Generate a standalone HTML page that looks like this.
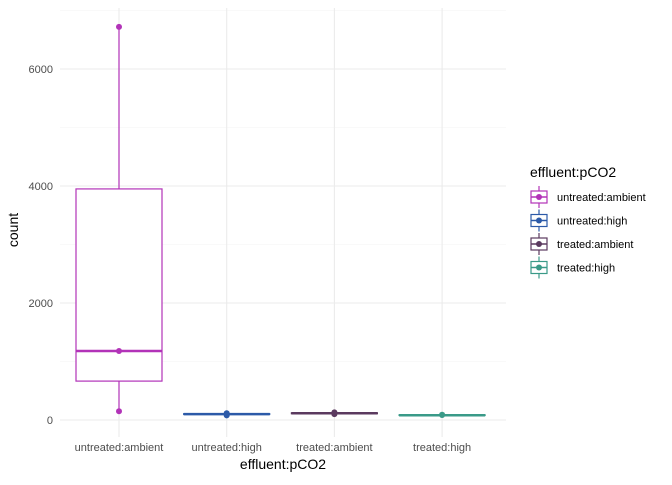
<!DOCTYPE html>
<html><head><meta charset="utf-8"><style>
body{margin:0;background:#fff}
text{font-family:"Liberation Sans",sans-serif}
</style></head><body>
<svg id="chart" width="672" height="480" xmlns="http://www.w3.org/2000/svg">
<g id="grid"></g><g id="marks"></g><g id="axes"></g><g id="legend"></g>
</svg>
<script>
const categories=["untreated:ambient","untreated:high","treated:ambient","treated:high"];
const colors=["#b233b8","#2c5aa8","#5b3a5f","#3a9a88"];
const lowerWhisker=[150,100,110,80];
const q1=[665,95,108,78];
const medians=[1180,100,115,82];
const q3=[3950,108,122,88];
const upperWhisker=[6720,112,128,92];
const points=[[150,1180,6720],[80,100,115],[100,118,130],[85,90]];
const yTicks=[0,2000,4000,6000];
const NS="http://www.w3.org/2000/svg";
const L=60,R=506,T=8,B=437;
const y=v=>420-v*(117/2000);
const x=i=>119+i*107.7;
function mk(tag,attrs,parent){const e=document.createElementNS(NS,tag);for(const k in attrs)e.setAttribute(k,attrs[k]);parent.appendChild(e);return e;}
const grid=document.getElementById('grid'),marks=document.getElementById('marks'),axes=document.getElementById('axes'),legend=document.getElementById('legend');
for(let i=0;i<yTicks.length;i++){
 const g=mk('line',{x1:L,x2:R,y1:y(yTicks[i]),y2:y(yTicks[i]),stroke:'#ebebeb','stroke-width':1.1},grid);
 
 
 const m=mk('line',{x1:L,x2:R,y1:y(yTicks[i]+1000),y2:y(yTicks[i]+1000),stroke:'#f3f3f3','stroke-width':0.6},grid);
 
 
 const t=mk('text',{x:53,y:y(yTicks[i])+4,'text-anchor':'end','font-size':11,fill:'#4d4d4d'},axes);
 t.textContent=yTicks[i];
 
 
}
categories.forEach((c,i)=>{
 const cx=x(i),w=43,col=colors[i];
 const g=mk('line',{x1:cx,x2:cx,y1:T,y2:B,stroke:'#ebebeb','stroke-width':1.1},grid);
 
 
 const grp=mk('g',{},marks);
 
 
 mk('line',{x1:cx,x2:cx,y1:y(upperWhisker[i]),y2:y(q3[i]),stroke:col,'stroke-width':1.2},grp);
 mk('line',{x1:cx,x2:cx,y1:y(q1[i]),y2:y(lowerWhisker[i]),stroke:col,'stroke-width':1.2},grp);
 mk('rect',{x:cx-w,y:y(q3[i]),width:2*w,height:Math.max(y(q1[i])-y(q3[i]),0.5),fill:'#fff',stroke:col,'stroke-width':1.2},grp);
 mk('line',{x1:cx-w,x2:cx+w,y1:y(medians[i]),y2:y(medians[i]),stroke:col,'stroke-width':2.5},grp);
 points[i].forEach(p=>{mk('circle',{cx:cx,cy:y(p),r:3,fill:col},grp);});
 const t=mk('text',{x:cx,y:451,'text-anchor':'middle','font-size':11,fill:'#4d4d4d'},axes);
 t.textContent=c;
 
 
 const ly=197+i*23.5;
 const le=mk('g',{},legend);
 
 
 mk('line',{x1:539,x2:539,y1:ly-11,y2:ly+11,stroke:col,'stroke-width':1.2},le);
 mk('rect',{x:531,y:ly-6,width:16,height:12,fill:'#fff',stroke:col,'stroke-width':1.2},le);
 mk('line',{x1:531,x2:547,y1:ly,y2:ly,stroke:col,'stroke-width':1.5},le);
 mk('circle',{cx:539,cy:ly,r:3,fill:col},le);
 const lt=mk('text',{x:557,y:ly+4,'font-size':11,fill:'#000'},le);
 lt.textContent=c;
});
const xt=mk('text',{x:283,y:469,'text-anchor':'middle','font-size':14,fill:'#000'},axes);
xt.textContent='effluent:pCO2';


const yt=mk('text',{x:18,y:230,'text-anchor':'middle','font-size':14,fill:'#000',transform:'rotate(-90 18 230)'},axes);
yt.textContent='count';


const lt=mk('text',{x:530,y:177,'font-size':14,fill:'#000'},legend);
lt.textContent='effluent:pCO2';


</script>
</body></html>
